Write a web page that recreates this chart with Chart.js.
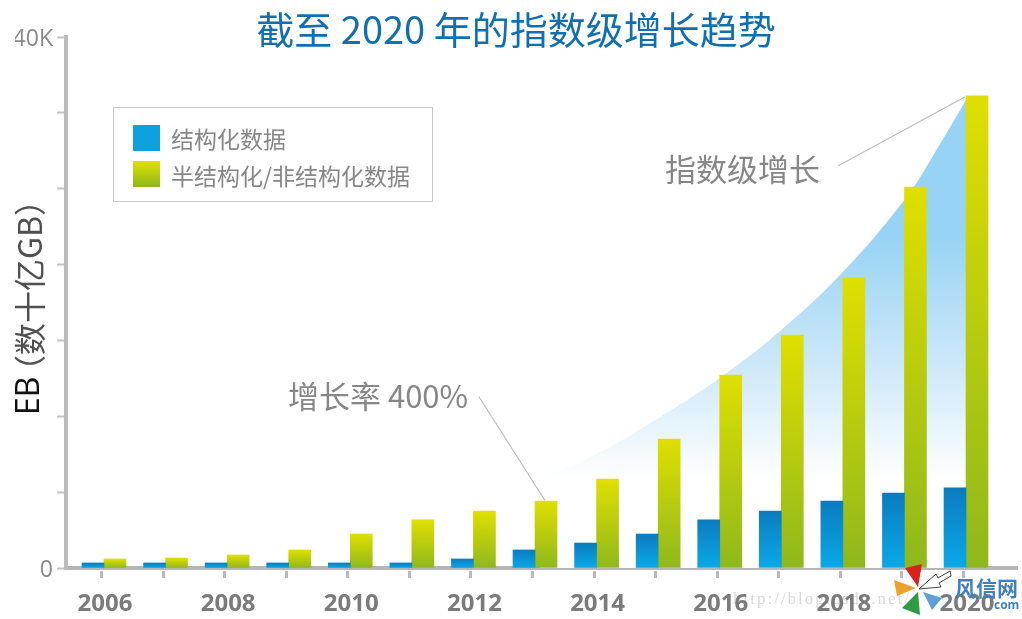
<!DOCTYPE html>
<html><head><meta charset="utf-8">
<style>html,body{margin:0;padding:0;background:#fff}canvas{display:block}</style>
<script src="https://cdn.jsdelivr.net/npm/chart.js@4"></script></head>
<body><div style="width:1022px;height:619px"><canvas id="c"></canvas></div>
<script>
const years=[2006,2007,2008,2009,2010,2011,2012,2013,2014,2015,2016,2017,2018,2019,2020];
const structured=[380,380,380,380,380,380,680,1360,1880,2560,3620,4290,5050,5650,6030];
const semiStructured=[680,750,980,1360,2560,3620,4290,5050,6700,9720,14540,17550,21850,28700,35560];
const curveYears=[2013.08,2014.06,2015.03,2016.0,2016.98,2018.0,2019.01,2019.51,2020.02];
const curveValues=[6630,8740,11375,14310,17855,22300,27800,31410,35400];
const leaderA={x:[2017.92,2019.98],y:[30280,35480]};
const leaderB={x:[2012.09,2013.16],y:[12900,5100]};
const seriesNames=['结构化数据','半结构化/非结构化数据'];
const chartTitle='截至 2020 年的指数级增长趋势';
const CJK='"Noto Sans CJK SC","Noto Sans",sans-serif';
const LAT='"Open Sans","Noto Sans",sans-serif';

function zip(xs,ys){return xs.map((x,i)=>({x,y:ys[i]}));}
function barGrad(top,bottom){
  return ctx=>{
    const ch=ctx.chart, v=ctx.parsed&&ctx.parsed.y;
    if(v==null||!ch.chartArea) return bottom;
    const a=ch.scales.y.getPixelForValue(v),b=ch.scales.y.getPixelForValue(0);
    if(!Number.isFinite(a)||!Number.isFinite(b)) return bottom;
    const g=ch.ctx.createLinearGradient(0,a,0,b);
    g.addColorStop(0,top);g.addColorStop(1,bottom);return g;
  };
}
function areaGrad(ctx){
  const ch=ctx.chart;
  if(!ch.chartArea) return '#97d3f4';
  const s=ch.scales.y,a=s.getPixelForValue(6630),b=s.getPixelForValue(25000);
  if(!Number.isFinite(a)||!Number.isFinite(b)) return '#97d3f4';
  const g=ch.ctx.createLinearGradient(0,a,0,b);
  g.addColorStop(0,'#ffffff');g.addColorStop(.45,'#cfe9f9');g.addColorStop(1,'#97d3f4');
  return g;
}
const overlay={id:'overlay',
  afterDraw(ch){
    const c=ch.ctx,x=ch.scales.x,y0=ch.chartArea.bottom;
    c.save();c.fillStyle='#b9b9c2';
    years.forEach(v=>{c.fillRect(Math.round(x.getPixelForValue(v))-4,y0+3,3,7);});
    c.strokeStyle='#c9c9c9';c.lineWidth=1;c.strokeRect(113.5,107.5,319,94);
    c.fillStyle='#0fa0df';c.fillRect(133,125,27,26);
    let g=c.createLinearGradient(0,161,0,187);g.addColorStop(0,'#e0df00');g.addColorStop(1,'#8fb81c');
    c.fillStyle=g;c.fillRect(133,161,27,26);
    c.textBaseline='middle';c.textAlign='left';c.fillStyle='#878787';
    c.font='23px '+CJK;
    c.fillText(seriesNames[0],171,139);
    c.fillText(seriesNames[1],171,176);
    c.font='31px '+CJK;c.fillText('指数级增长',665,169);
    c.fillText('增长率 400%',288,396);
    c.save();c.translate(30,415);c.rotate(-Math.PI/2);c.textBaseline='middle';
    c.font='32px '+LAT;c.fillStyle='#111111';c.fillText('EB',0,0);
    c.font='32px '+CJK;c.fillStyle='#505050';c.fillText('（数十亿GB）',28,0);
    c.restore();
    c.font='17px "Liberation Serif",serif';c.fillStyle='rgba(120,120,120,.28)';
    try{c.letterSpacing='2px';}catch(e){}
    c.fillText('http://blog.csdn.net/',733,600);
    try{c.letterSpacing='0px';}catch(e){}
    const tri=(col,p)=>{c.fillStyle=col;c.beginPath();c.moveTo(p[0],p[1]);c.lineTo(p[2],p[3]);c.lineTo(p[4],p[5]);c.closePath();c.fill();};
    tri('#d8231c',[905,568,922,564,918,587]);
    tri('#eea02c',[894,580,916,588,897,596]);
    tri('#2f9a46',[918,592,920,615,902,608]);
    tri('#5f9fd8',[923,592,942,598,932,610]);
    c.fillStyle='#fff';c.strokeStyle='#444';c.lineWidth=1;c.beginPath();
    c.moveTo(919,589);c.lineTo(936,574);c.lineTo(938,578);c.lineTo(950,571);c.lineTo(951,576);c.lineTo(939,583);c.lineTo(941,587);c.closePath();c.fill();c.stroke();
    c.fillStyle='#3f7fc4';c.font='bold 21px '+CJK;c.textAlign='left';c.fillText('风信网',955,588);
    c.font='bold 12px '+LAT;c.fillText('com',994,606);
    c.restore();
  }};
new Chart(document.getElementById('c'),{
  data:{datasets:[
    {type:'bar',label:seriesNames[0],data:zip(years,structured),order:1,barThickness:22,
     backgroundColor:barGrad('#0a7cbf','#0aa9e8')},
    {type:'bar',label:seriesNames[1],data:zip(years,semiStructured),order:1,barThickness:22,
     backgroundColor:barGrad('#e0df00','#8fb81c')},
    {type:'line',label:'趋势',data:zip(curveYears,curveValues),order:3,fill:'origin',borderWidth:0,pointRadius:0,
     tension:0.4,backgroundColor:areaGrad},
    {type:'line',label:'a',data:zip(leaderA.x,leaderA.y),order:0,borderColor:'#bdbdbd',borderWidth:1.2,pointRadius:0,fill:false},
    {type:'line',label:'b',data:zip(leaderB.x,leaderB.y),order:0,borderColor:'#bdbdbd',borderWidth:1.2,pointRadius:0,fill:false}
  ]},
  plugins:[overlay],
  options:{responsive:true,maintainAspectRatio:false,animation:false,devicePixelRatio:1,
    layout:{padding:{left:15,right:5,top:0,bottom:0}},
    plugins:{legend:{display:false},tooltip:{enabled:false},
      title:{display:true,text:chartTitle,color:'#0f6fb0',font:{family:CJK,size:38,weight:'normal',lineHeight:1},padding:{top:11,bottom:-12}}},
    scales:{
      x:{type:'linear',min:2005.383,max:2020.828,offset:false,
        afterFit(s){s.height=51;},
        border:{color:'#b5b5b5',width:4},
        grid:{display:false,drawTicks:false},
        ticks:{stepSize:1,includeBounds:false,autoSkip:false,maxRotation:0,padding:22,labelOffset:1,
          color:'#7b7b7b',font:{family:LAT,size:24,weight:'bold'},
          callback:v=>(Number.isInteger(v)&&v%2===0)?String(v):''}},
      y:{min:0,max:40000,
        afterFit(s){s.width=51;},
        border:{color:'#bbbbbb',width:4},
        grid:{drawOnChartArea:false,drawTicks:true,tickLength:9,tickWidth:2,tickColor:'#c4c4c4'},
        ticks:{count:8,autoSkip:false,padding:4,labelOffset:2.5,color:'#8a8a8a',font:{family:LAT,size:23},
          callback:v=>v===0?'0':(v===40000?'40K':'')}}
    }}
});
</script></body></html>
